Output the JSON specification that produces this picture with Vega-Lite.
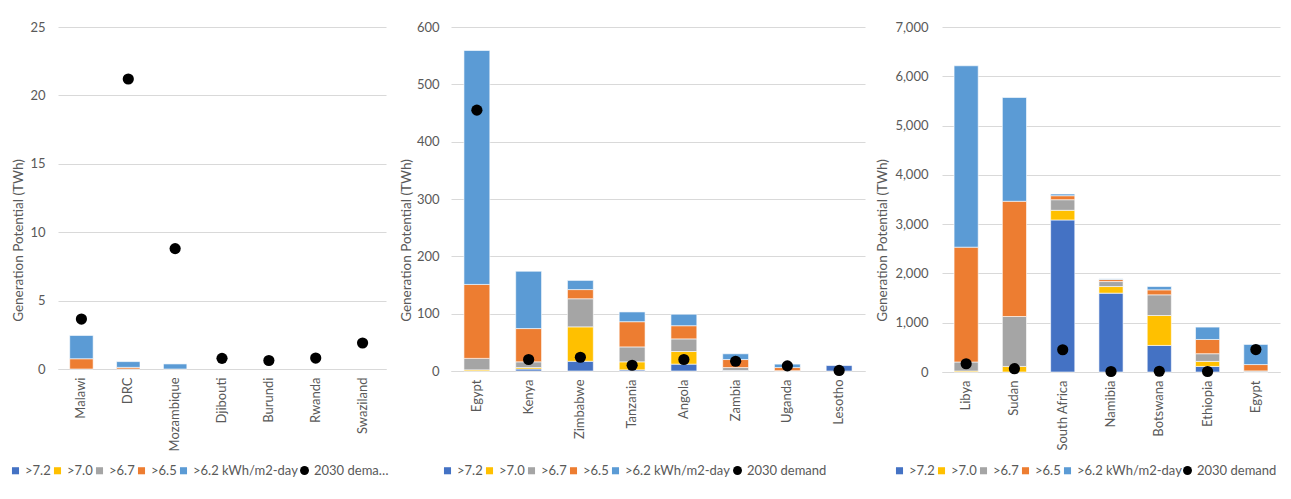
{
  "$schema": "https://vega.github.io/schema/vega-lite/v6.json",
  "background": "white",
  "padding": {"left": 9, "top": 21, "right": 5, "bottom": 5},
  "config": {
    "font": "Lato",
    "view": {"stroke": null},
    "axisX": {"labelAngle": -90, "labelFontSize": 13, "labelColor": "#595959", "labelPadding": 8, "ticks": false, "domainColor": "#D9D9D9", "grid": false, "title": null},
    "axisY": {"grid": true, "gridColor": "#D9D9D9", "domain": false, "ticks": false, "labelPadding": 12, "labelFontSize": 13, "labelColor": "#595959", "titleFontSize": 13.5, "titleFontWeight": "normal", "titleColor": "#595959", "titlePadding": 4, "titleY": 213},
    "legend": {"orient": "none", "legendY": 437, "direction": "horizontal", "title": null, "labelFontSize": 13, "labelColor": "#595959", "columnPadding": -1, "labelOffset": 3, "padding": 0, "symbolStrokeWidth": 0, "symbolOpacity": 1, "symbolType": "square", "symbolSize": 50}
  },
  "datasets": {
    "potential": [
      {"panel": 1, "country": "Malawi", "class": ">6.5", "value": 0.75},
      {"panel": 1, "country": "Malawi", "class": ">6.2 kWh/m2-day", "value": 1.7},
      {"panel": 1, "country": "DRC", "class": ">6.5", "value": 0.12},
      {"panel": 1, "country": "DRC", "class": ">6.2 kWh/m2-day", "value": 0.42},
      {"panel": 1, "country": "Mozambique", "class": ">6.2 kWh/m2-day", "value": 0.37},
      {"panel": 2, "country": "Egypt", "class": ">7.0", "value": 2},
      {"panel": 2, "country": "Egypt", "class": ">6.7", "value": 20},
      {"panel": 2, "country": "Egypt", "class": ">6.5", "value": 129},
      {"panel": 2, "country": "Egypt", "class": ">6.2 kWh/m2-day", "value": 408},
      {"panel": 2, "country": "Kenya", "class": ">7.2", "value": 3.5},
      {"panel": 2, "country": "Kenya", "class": ">7.0", "value": 2.5},
      {"panel": 2, "country": "Kenya", "class": ">6.7", "value": 10},
      {"panel": 2, "country": "Kenya", "class": ">6.5", "value": 58},
      {"panel": 2, "country": "Kenya", "class": ">6.2 kWh/m2-day", "value": 100},
      {"panel": 2, "country": "Zimbabwe", "class": ">7.2", "value": 17},
      {"panel": 2, "country": "Zimbabwe", "class": ">7.0", "value": 60},
      {"panel": 2, "country": "Zimbabwe", "class": ">6.7", "value": 49},
      {"panel": 2, "country": "Zimbabwe", "class": ">6.5", "value": 16},
      {"panel": 2, "country": "Zimbabwe", "class": ">6.2 kWh/m2-day", "value": 16},
      {"panel": 2, "country": "Tanzania", "class": ">7.2", "value": 2},
      {"panel": 2, "country": "Tanzania", "class": ">7.0", "value": 14},
      {"panel": 2, "country": "Tanzania", "class": ">6.7", "value": 26},
      {"panel": 2, "country": "Tanzania", "class": ">6.5", "value": 44},
      {"panel": 2, "country": "Tanzania", "class": ">6.2 kWh/m2-day", "value": 17},
      {"panel": 2, "country": "Angola", "class": ">7.2", "value": 12},
      {"panel": 2, "country": "Angola", "class": ">7.0", "value": 22},
      {"panel": 2, "country": "Angola", "class": ">6.7", "value": 22},
      {"panel": 2, "country": "Angola", "class": ">6.5", "value": 23},
      {"panel": 2, "country": "Angola", "class": ">6.2 kWh/m2-day", "value": 20},
      {"panel": 2, "country": "Zambia", "class": ">7.2", "value": 1},
      {"panel": 2, "country": "Zambia", "class": ">6.7", "value": 5},
      {"panel": 2, "country": "Zambia", "class": ">6.5", "value": 14},
      {"panel": 2, "country": "Zambia", "class": ">6.2 kWh/m2-day", "value": 10},
      {"panel": 2, "country": "Uganda", "class": ">6.7", "value": 0.5},
      {"panel": 2, "country": "Uganda", "class": ">6.5", "value": 5.5},
      {"panel": 2, "country": "Uganda", "class": ">6.2 kWh/m2-day", "value": 6},
      {"panel": 2, "country": "Lesotho", "class": ">7.2", "value": 9.5},
      {"panel": 3, "country": "Libya", "class": ">7.0", "value": 20},
      {"panel": 3, "country": "Libya", "class": ">6.7", "value": 183},
      {"panel": 3, "country": "Libya", "class": ">6.5", "value": 2330},
      {"panel": 3, "country": "Libya", "class": ">6.2 kWh/m2-day", "value": 3680},
      {"panel": 3, "country": "Sudan", "class": ">7.0", "value": 113},
      {"panel": 3, "country": "Sudan", "class": ">6.7", "value": 1013},
      {"panel": 3, "country": "Sudan", "class": ">6.5", "value": 2338},
      {"panel": 3, "country": "Sudan", "class": ">6.2 kWh/m2-day", "value": 2106},
      {"panel": 3, "country": "South Africa", "class": ">7.2", "value": 3085},
      {"panel": 3, "country": "South Africa", "class": ">7.0", "value": 196},
      {"panel": 3, "country": "South Africa", "class": ">6.7", "value": 215},
      {"panel": 3, "country": "South Africa", "class": ">6.5", "value": 81},
      {"panel": 3, "country": "South Africa", "class": ">6.2 kWh/m2-day", "value": 34},
      {"panel": 3, "country": "Namibia", "class": ">7.2", "value": 1600},
      {"panel": 3, "country": "Namibia", "class": ">7.0", "value": 134},
      {"panel": 3, "country": "Namibia", "class": ">6.7", "value": 101},
      {"panel": 3, "country": "Namibia", "class": ">6.5", "value": 41},
      {"panel": 3, "country": "Namibia", "class": ">6.2 kWh/m2-day", "value": 14},
      {"panel": 3, "country": "Botswana", "class": ">7.2", "value": 539},
      {"panel": 3, "country": "Botswana", "class": ">7.0", "value": 607},
      {"panel": 3, "country": "Botswana", "class": ">6.7", "value": 420},
      {"panel": 3, "country": "Botswana", "class": ">6.5", "value": 101},
      {"panel": 3, "country": "Botswana", "class": ">6.2 kWh/m2-day", "value": 67},
      {"panel": 3, "country": "Ethiopia", "class": ">7.2", "value": 113},
      {"panel": 3, "country": "Ethiopia", "class": ">7.0", "value": 102},
      {"panel": 3, "country": "Ethiopia", "class": ">6.7", "value": 156},
      {"panel": 3, "country": "Ethiopia", "class": ">6.5", "value": 289},
      {"panel": 3, "country": "Ethiopia", "class": ">6.2 kWh/m2-day", "value": 251},
      {"panel": 3, "country": "Egypt", "class": ">7.0", "value": 2},
      {"panel": 3, "country": "Egypt", "class": ">6.7", "value": 20},
      {"panel": 3, "country": "Egypt", "class": ">6.5", "value": 129},
      {"panel": 3, "country": "Egypt", "class": ">6.2 kWh/m2-day", "value": 408}
    ],
    "demand": [
      {"panel": 1, "country": "Malawi", "demand": 3.65},
      {"panel": 1, "country": "DRC", "demand": 21.2},
      {"panel": 1, "country": "Mozambique", "demand": 8.8},
      {"panel": 1, "country": "Djibouti", "demand": 0.78},
      {"panel": 1, "country": "Burundi", "demand": 0.62},
      {"panel": 1, "country": "Rwanda", "demand": 0.8},
      {"panel": 1, "country": "Swaziland", "demand": 1.9},
      {"panel": 2, "country": "Egypt", "demand": 455},
      {"panel": 2, "country": "Kenya", "demand": 20},
      {"panel": 2, "country": "Zimbabwe", "demand": 24},
      {"panel": 2, "country": "Tanzania", "demand": 10},
      {"panel": 2, "country": "Angola", "demand": 20},
      {"panel": 2, "country": "Zambia", "demand": 17},
      {"panel": 2, "country": "Uganda", "demand": 9},
      {"panel": 2, "country": "Lesotho", "demand": 1},
      {"panel": 3, "country": "Libya", "demand": 168},
      {"panel": 3, "country": "Sudan", "demand": 67},
      {"panel": 3, "country": "South Africa", "demand": 452},
      {"panel": 3, "country": "Namibia", "demand": 10},
      {"panel": 3, "country": "Botswana", "demand": 15},
      {"panel": 3, "country": "Ethiopia", "demand": 10},
      {"panel": 3, "country": "Egypt", "demand": 455}
    ]
  },
  "spacing": 10,
  "resolve": {"scale": {"color": "independent", "shape": "independent", "x": "independent", "y": "independent"}, "legend": {"color": "independent", "shape": "independent"}},
  "hconcat": [
    {
      "width": 328,
      "height": 342,
      "layer": [
        {
          "data": {"name": "potential"},
          "transform": [{"filter": "datum.panel === 1"}],
          "mark": {"type": "bar", "stroke": "white", "strokeWidth": 0.6},
          "encoding": {
            "x": {"field": "country", "type": "nominal", "scale": {"domain": ["Malawi", "DRC", "Mozambique", "Djibouti", "Burundi", "Rwanda", "Swaziland"], "paddingInner": 0.5, "paddingOuter": 0.25}, "title": null},
            "y": {"field": "value", "type": "quantitative", "stack": "zero", "scale": {"domain": [0, 25], "nice": false}, "axis": {"values": [0, 5, 10, 15, 20, 25], "labelPadding": 13}, "title": "Generation Potential (TWh)"},
            "color": {"field": "class", "type": "nominal", "scale": {"domain": [">7.2", ">7.0", ">6.7", ">6.5", ">6.2 kWh/m2-day"], "range": ["#4472C4", "#FFC000", "#A5A5A5", "#ED7D31", "#5B9BD5"]},
              "legend": {"legendX": -49, "columns": 5}},
            "order": {"field": "class", "sort": "descending"}
          }
        },
        {
          "data": {"name": "demand"},
          "transform": [{"filter": "datum.panel === 1"}],
          "mark": {"type": "point", "filled": true, "size": 125, "opacity": 1, "color": "black"},
          "encoding": {
            "x": {"field": "country", "type": "nominal"},
            "y": {"field": "demand", "type": "quantitative"},
            "shape": {"datum": "2030 demand", "scale": {"range": ["circle"]},
              "legend": {"legendX": 240, "symbolSize": 80, "symbolFillColor": "black", "symbolStrokeColor": "black", "labelLimit": 76}}
          }
        }
      ]
    },
    {
      "width": 414,
      "height": 344,
      "layer": [
        {
          "data": {"name": "potential"},
          "transform": [{"filter": "datum.panel === 2"}],
          "mark": {"type": "bar", "stroke": "white", "strokeWidth": 0.6},
          "encoding": {
            "x": {"field": "country", "type": "nominal", "scale": {"domain": ["Egypt", "Kenya", "Zimbabwe", "Tanzania", "Angola", "Zambia", "Uganda", "Lesotho"], "paddingInner": 0.5, "paddingOuter": 0.25}, "title": null},
            "y": {"field": "value", "type": "quantitative", "stack": "zero", "scale": {"domain": [0, 600], "nice": false}, "axis": {"values": [0, 100, 200, 300, 400, 500, 600], "titlePadding": 3}, "title": "Generation Potential (TWh)"},
            "color": {"field": "class", "type": "nominal", "scale": {"domain": [">7.2", ">7.0", ">6.7", ">6.5", ">6.2 kWh/m2-day"], "range": ["#4472C4", "#FFC000", "#A5A5A5", "#ED7D31", "#5B9BD5"]},
              "legend": {"legendX": -10, "columns": 5}},
            "order": {"field": "class", "sort": "descending"}
          }
        },
        {
          "data": {"name": "demand"},
          "transform": [{"filter": "datum.panel === 2"}],
          "mark": {"type": "point", "filled": true, "size": 125, "opacity": 1, "color": "black"},
          "encoding": {
            "x": {"field": "country", "type": "nominal"},
            "y": {"field": "demand", "type": "quantitative"},
            "shape": {"datum": "2030 demand", "scale": {"range": ["circle"]},
              "legend": {"legendX": 280, "symbolSize": 80, "symbolFillColor": "black", "symbolStrokeColor": "black"}}
          }
        }
      ]
    },
    {
      "width": 338,
      "height": 345,
      "layer": [
        {
          "data": {"name": "potential"},
          "transform": [{"filter": "datum.panel === 3"}],
          "mark": {"type": "bar", "stroke": "white", "strokeWidth": 0.6},
          "encoding": {
            "x": {"field": "country", "type": "nominal", "scale": {"domain": ["Libya", "Sudan", "South Africa", "Namibia", "Botswana", "Ethiopia", "Egypt"], "paddingInner": 0.5, "paddingOuter": 0.25}, "title": null},
            "y": {"field": "value", "type": "quantitative", "stack": "zero", "scale": {"domain": [0, 7000], "nice": false}, "axis": {"values": [0, 1000, 2000, 3000, 4000, 5000, 6000, 7000], "format": ",d", "labelPadding": 14, "titlePadding": 5}, "title": "Generation Potential (TWh)"},
            "color": {"field": "class", "type": "nominal", "scale": {"domain": [">7.2", ">7.0", ">6.7", ">6.5", ">6.2 kWh/m2-day"], "range": ["#4472C4", "#FFC000", "#A5A5A5", "#ED7D31", "#5B9BD5"]},
              "legend": {"legendX": -49, "columns": 5}},
            "order": {"field": "class", "sort": "descending"}
          }
        },
        {
          "data": {"name": "demand"},
          "transform": [{"filter": "datum.panel === 3"}],
          "mark": {"type": "point", "filled": true, "size": 125, "opacity": 1, "color": "black"},
          "encoding": {
            "x": {"field": "country", "type": "nominal"},
            "y": {"field": "demand", "type": "quantitative"},
            "shape": {"datum": "2030 demand", "scale": {"range": ["circle"]},
              "legend": {"legendX": 239, "symbolSize": 80, "symbolFillColor": "black", "symbolStrokeColor": "black"}}
          }
        }
      ]
    }
  ]
}
